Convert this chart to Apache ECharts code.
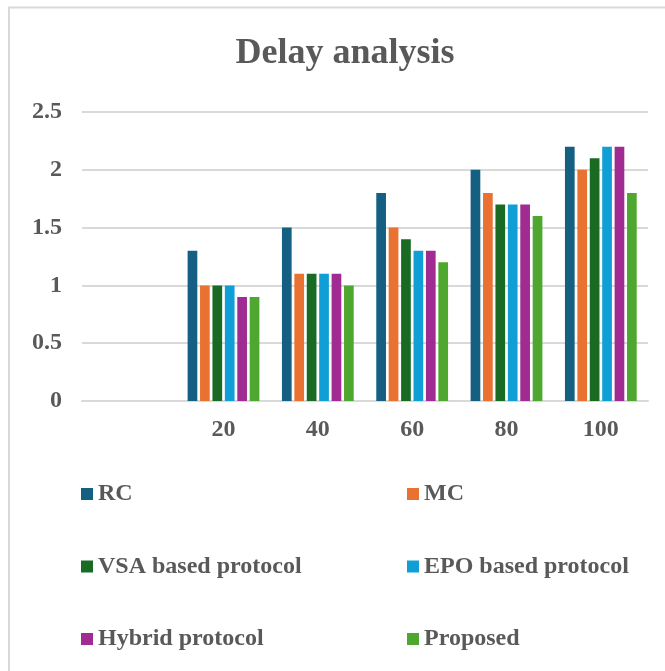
<!DOCTYPE html>
<html>
<head>
<meta charset="utf-8">
<script src="https://cdn.jsdelivr.net/npm/echarts@6/dist/echarts.min.js"></script>
<style>html,body{margin:0;padding:0;background:#fff}#c{width:665px;height:671px}</style>
</head>
<body>
<div id="c"></div>
<script>
const categories = ["", "20", "40", "60", "80", "100"];
const seriesNames = ["RC", "MC", "VSA based protocol", "EPO based protocol", "Hybrid protocol", "Proposed"];
const rc       = [null, 1.3, 1.5, 1.8, 2.0, 2.2];
const mc       = [null, 1.0, 1.1, 1.5, 1.8, 2.0];
const vsa      = [null, 1.0, 1.1, 1.4, 1.7, 2.1];
const epo      = [null, 1.0, 1.1, 1.3, 1.7, 2.2];
const hybrid   = [null, 0.9, 1.1, 1.3, 1.7, 2.2];
const proposed = [null, 0.9, 1.0, 1.2, 1.6, 1.8];
const yTicks = [0, 0.5, 1, 1.5, 2, 2.5];
const colors = ["#156082", "#E97132", "#196B24", "#0F9ED5", "#A02B93", "#4EA72E"];

const values = [rc, mc, vsa, epo, hybrid, proposed];
const font = "'Liberation Serif', 'Times New Roman', serif";
const txt = "#595959";

const legendText = {fontFamily: font, fontWeight: 'bold', fontSize: 24, color: txt, lineHeight: 24};

const chart = echarts.init(document.getElementById('c'), null, {renderer: 'canvas'});
chart.setOption({
  animation: false,
  color: colors,
  graphic: [{
    type: 'rect', silent: true, z: -1,
    shape: {x: 9, y: 7.5, width: 720, height: 720},
    style: {fill: 'none', stroke: '#d9d9d9', lineWidth: 2}
  }],
  title: {
    text: 'Delay analysis',
    left: 340, top: 31, textAlign: 'center',
    textStyle: {fontFamily: font, fontWeight: 'bold', fontSize: 36, color: txt}
  },
  legend: [
    {data: [seriesNames[0], seriesNames[2], seriesNames[4]], orient: 'vertical', left: 76, top: 477,
     itemWidth: 12, itemHeight: 12, itemGap: 48.5, icon: 'rect', textStyle: legendText},
    {data: [seriesNames[1], seriesNames[3], seriesNames[5]], orient: 'vertical', left: 402, top: 477,
     itemWidth: 12, itemHeight: 12, itemGap: 48.5, icon: 'rect', textStyle: legendText}
  ],
  grid: {left: 82, right: 17, top: 112, bottom: 270, containLabel: false},
  xAxis: {
    type: 'category', data: categories,
    axisLine: {lineStyle: {color: '#d9d9d9', width: 2}},
    axisTick: {show: false},
    axisLabel: {fontFamily: font, fontWeight: 'bold', fontSize: 24, color: txt, margin: 17}
  },
  yAxis: {
    type: 'value', min: yTicks[0], max: yTicks[yTicks.length-1], interval: 0.5,
    axisLine: {show: false}, axisTick: {show: false},
    splitLine: {lineStyle: {color: '#d9d9d9', width: 2}},
    axisLabel: {fontFamily: font, fontWeight: 'bold', fontSize: 24, color: txt, margin: 20,
      formatter: v => String(v)}
  },
  series: seriesNames.map((n, i) => ({
    name: n, type: 'bar', data: values[i],
    barWidth: 9.7, barGap: '28%',
    itemStyle: {color: colors[i]}
  }))
});
</script>
</body>
</html>
